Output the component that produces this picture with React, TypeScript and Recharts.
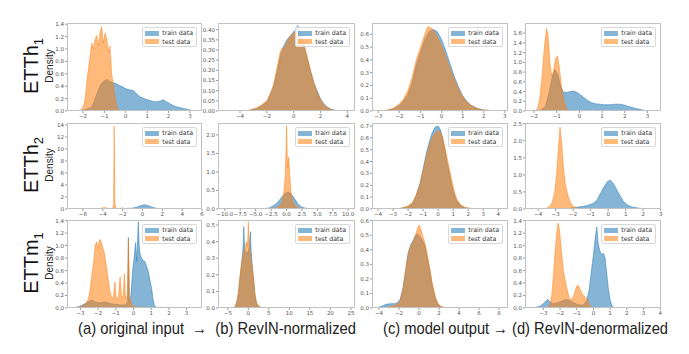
import { AreaChart, Area, XAxis, YAxis } from 'recharts';

type Pt = [number, number];

// ETTh1
const h1InputTrain: Pt[] = [[-2.5,0],[-2.2,0.01],[-1.9,0.02],[-1.6,0.06],[-1.45,0.18],[-1.3,0.33],[-1.15,0.44],[-1.0,0.49],[-0.88,0.51],[-0.75,0.47],[-0.6,0.46],[-0.45,0.44],[-0.3,0.41],[-0.15,0.39],[0,0.36],[0.2,0.34],[0.35,0.33],[0.5,0.28],[0.66,0.23],[0.85,0.2],[1.0,0.18],[1.15,0.17],[1.3,0.15],[1.45,0.15],[1.6,0.16],[1.75,0.18],[1.9,0.15],[2.05,0.12],[2.2,0.09],[2.45,0.06],[2.7,0.04],[2.95,0.02],[3.2,0]];
const h1InputTest: Pt[] = [[-2.1,0],[-1.98,0.08],[-1.9,0.2],[-1.8,0.55],[-1.72,0.75],[-1.65,0.95],[-1.59,1.1],[-1.52,1.0],[-1.44,1.15],[-1.36,1.22],[-1.28,1.05],[-1.21,1.26],[-1.13,1.36],[-1.05,1.1],[-0.97,1.26],[-0.89,1.16],[-0.82,0.95],[-0.74,1.05],[-0.66,0.6],[-0.58,0.4],[-0.5,0.2],[-0.4,0.05],[-0.3,0]];
const h1NormTrain: Pt[] = [[-3.6,0],[-3.2,0.005],[-2.8,0.012],[-2.4,0.025],[-2.0,0.045],[-1.75,0.08],[-1.5,0.12],[-1.25,0.19],[-1.0,0.27],[-0.75,0.32],[-0.5,0.35],[-0.25,0.37],[0,0.39],[0.15,0.4],[0.3,0.42],[0.45,0.4],[0.6,0.37],[0.75,0.33],[1.0,0.26],[1.25,0.2],[1.5,0.14],[1.75,0.1],[2.0,0.06],[2.25,0.035],[2.5,0.02],[2.75,0.01],[3.0,0.005],[3.4,0]];
const h1NormTest: Pt[] = [[-3.6,0],[-3.2,0.006],[-2.8,0.014],[-2.4,0.03],[-2.0,0.05],[-1.75,0.085],[-1.5,0.13],[-1.25,0.21],[-1.0,0.29],[-0.85,0.31],[-0.7,0.31],[-0.5,0.34],[-0.25,0.37],[0,0.385],[0.2,0.39],[0.4,0.38],[0.6,0.36],[0.75,0.33],[1.0,0.27],[1.25,0.2],[1.5,0.14],[1.75,0.09],[2.0,0.055],[2.25,0.03],[2.5,0.017],[2.75,0.008],[3.0,0.003],[3.4,0]];
const h1OutTrain: Pt[] = [[-3,0],[-2.6,0.005],[-2.3,0.015],[-2.0,0.045],[-1.8,0.08],[-1.6,0.13],[-1.4,0.22],[-1.2,0.36],[-1.0,0.46],[-0.8,0.56],[-0.6,0.62],[-0.4,0.64],[-0.2,0.62],[0,0.56],[0.2,0.47],[0.4,0.37],[0.6,0.27],[0.8,0.19],[1.0,0.12],[1.2,0.075],[1.4,0.045],[1.7,0.02],[2.0,0.008],[2.5,0.002],[3,0]];
const h1OutTest: Pt[] = [[-3,0],[-2.6,0.006],[-2.3,0.02],[-2.0,0.055],[-1.8,0.095],[-1.6,0.16],[-1.4,0.26],[-1.2,0.4],[-1.0,0.5],[-0.8,0.6],[-0.65,0.66],[-0.5,0.65],[-0.3,0.61],[-0.1,0.55],[0.1,0.47],[0.3,0.38],[0.5,0.29],[0.7,0.21],[0.9,0.14],[1.1,0.09],[1.3,0.055],[1.6,0.025],[1.9,0.01],[2.4,0.003],[3,0]];
const h1DenormTrain: Pt[] = [[-2.0,0],[-1.7,0.02],[-1.5,0.1],[-1.35,0.35],[-1.2,0.7],[-1.08,0.85],[-0.95,0.75],[-0.85,0.55],[-0.72,0.39],[-0.55,0.38],[-0.4,0.4],[-0.25,0.41],[-0.1,0.38],[0.05,0.33],[0.2,0.28],[0.35,0.22],[0.5,0.18],[0.7,0.15],[0.9,0.14],[1.1,0.13],[1.35,0.13],[1.6,0.14],[1.8,0.14],[2.0,0.12],[2.25,0.08],[2.5,0.05],[2.7,0.03],[2.9,0.01],[3.1,0]];
const h1DenormTest: Pt[] = [[-1.95,0],[-1.85,0.05],[-1.75,0.25],[-1.65,0.7],[-1.55,1.3],[-1.45,1.7],[-1.38,1.55],[-1.3,1.0],[-1.22,0.72],[-1.15,0.8],[-1.05,1.08],[-0.97,1.13],[-0.9,0.95],[-0.8,0.55],[-0.7,0.25],[-0.6,0.08],[-0.5,0.01],[-0.4,0]];

// ETTh2
const h2InputTrain: Pt[] = [[-6.5,0],[-4,0.02],[-3,0.05],[-2,0.08],[-1.5,0.1],[-1.0,0.15],[-0.6,0.3],[-0.2,0.55],[0.2,0.7],[0.6,0.55],[1.0,0.3],[1.4,0.12],[1.8,0.05],[2.5,0.02],[4,0.01],[5.5,0]];
const h2InputTest: Pt[] = [[-5,0],[-4.2,0.05],[-3.9,0.25],[-3.7,0.2],[-3.3,0.05],[-3.0,0.1],[-2.9,0.6],[-2.85,13.8],[-2.78,0.8],[-2.65,0.1],[-2.3,0.05],[-2.0,0.2],[-1.8,0.1],[-1.4,0.02],[-1,0]];
const h2NormTrain: Pt[] = [[-4.5,0],[-3.5,0.01],[-2.8,0.03],[-2.2,0.08],[-1.6,0.15],[-1.1,0.25],[-0.6,0.36],[-0.2,0.42],[0.3,0.46],[0.8,0.4],[1.3,0.28],[1.8,0.15],[2.3,0.07],[2.9,0.03],[3.6,0.01],[4.5,0]];
const h2NormTest: Pt[] = [[-3,0],[-2,0.02],[-1.2,0.06],[-0.7,0.2],[-0.4,0.5],[-0.2,0.9],[-0.08,1.6],[0,2.25],[0.1,1.5],[0.2,1.1],[0.35,1.4],[0.5,1.0],[0.7,0.5],[1.0,0.2],[1.5,0.06],[2.5,0.01],[3.5,0]];
const h2OutTrain: Pt[] = [[-3,0],[-2.5,0.005],[-2.0,0.02],[-1.7,0.05],[-1.45,0.12],[-1.2,0.22],[-1.0,0.34],[-0.8,0.46],[-0.6,0.56],[-0.4,0.64],[-0.2,0.69],[0,0.7],[0.15,0.67],[0.3,0.6],[0.45,0.5],[0.6,0.39],[0.78,0.28],[0.95,0.18],[1.1,0.11],[1.25,0.07],[1.5,0.03],[1.8,0.01],[2.3,0.003],[3,0]];
const h2OutTest: Pt[] = [[-3,0],[-2.5,0.006],[-2.0,0.025],[-1.7,0.055],[-1.45,0.12],[-1.2,0.21],[-1.0,0.32],[-0.8,0.43],[-0.6,0.53],[-0.4,0.6],[-0.2,0.64],[0,0.66],[0.15,0.65],[0.3,0.6],[0.45,0.52],[0.6,0.43],[0.78,0.32],[0.95,0.22],[1.1,0.14],[1.25,0.08],[1.5,0.035],[1.8,0.012],[2.3,0.003],[3,0]];
const h2DenormTrain: Pt[] = [[-2.6,0],[-2.2,0.02],[-1.8,0.05],[-1.4,0.08],[-1.1,0.12],[-0.85,0.17],[-0.65,0.25],[-0.45,0.45],[-0.25,0.64],[-0.05,0.8],[0.12,0.85],[0.3,0.75],[0.5,0.56],[0.7,0.37],[0.88,0.22],[1.1,0.12],[1.36,0.06],[1.8,0.02],[2.3,0.005],[2.7,0]];
const h2DenormTest: Pt[] = [[-4,0],[-3.6,0.01],[-3.4,0.05],[-3.2,0.18],[-3.05,0.5],[-2.95,1.0],[-2.85,1.7],[-2.75,2.4],[-2.65,1.9],[-2.55,1.2],[-2.45,0.75],[-2.3,0.4],[-2.15,0.18],[-2.0,0.08],[-1.8,0.03],[-1.4,0.01],[-1,0]];

// ETTm1
const m1InputTrain: Pt[] = [[-3.5,0],[-3.1,0.02],[-2.8,0.06],[-2.55,0.1],[-2.35,0.13],[-2.1,0.09],[-1.9,0.08],[-1.6,0.1],[-1.3,0.07],[-1.0,0.06],[-0.7,0.05],[-0.45,0.05],[-0.33,0.1],[-0.29,1.13],[-0.25,0.1],[-0.15,0.2],[-0.05,0.6],[0.05,0.85],[0.12,1.05],[0.18,0.75],[0.23,1.1],[0.27,1.38],[0.32,1.0],[0.38,0.85],[0.46,0.8],[0.55,0.76],[0.65,0.74],[0.75,0.66],[0.84,0.58],[0.93,0.45],[1.03,0.3],[1.1,0.15],[1.18,0.04],[1.3,0.01],[2,0.01],[3,0]];
const m1InputTest: Pt[] = [[-3.4,0],[-3.0,0.02],[-2.7,0.06],[-2.55,0.15],[-2.45,0.3],[-2.35,0.55],[-2.25,0.75],[-2.17,1.0],[-2.08,1.06],[-2.0,0.95],[-1.92,1.1],[-1.85,1.08],[-1.75,0.98],[-1.65,0.88],[-1.55,0.7],[-1.45,0.5],[-1.35,0.3],[-1.25,0.18],[-1.15,0.15],[-1.05,0.42],[-0.98,0.15],[-0.85,0.18],[-0.76,0.5],[-0.68,0.18],[-0.58,0.2],[-0.52,0.55],[-0.45,0.15],[-0.35,0.2],[-0.29,1.1],[-0.22,0.2],[-0.1,0.05],[0.1,0.02],[0.5,0.01],[1.0,0]];
const m1NormTrain: Pt[] = [[-3.6,0],[-3.2,0.01],[-2.8,0.035],[-2.4,0.09],[-2.0,0.19],[-1.6,0.28],[-1.3,0.36],[-1.1,0.49],[-0.9,0.35],[-0.6,0.34],[-0.3,0.33],[0,0.34],[0.25,0.38],[0.5,0.46],[0.7,0.34],[1.0,0.24],[1.3,0.17],[1.6,0.08],[2.0,0.03],[2.5,0.01],[3.5,0]];
const m1NormTest: Pt[] = [[-3.6,0],[-3.2,0.01],[-2.8,0.04],[-2.4,0.1],[-2.0,0.2],[-1.6,0.28],[-1.2,0.33],[-0.8,0.36],[-0.45,0.4],[-0.2,0.37],[0,0.52],[0.2,0.38],[0.5,0.33],[0.8,0.27],[1.2,0.2],[1.6,0.09],[2.0,0.03],[2.5,0.01],[3.5,0]];
const m1OutTrain: Pt[] = [[-4.3,0],[-3.8,0.01],[-3.3,0.025],[-2.8,0.03],[-2.4,0.03],[-2.1,0.04],[-1.88,0.06],[-1.6,0.14],[-1.38,0.24],[-1.2,0.33],[-1.05,0.39],[-0.8,0.44],[-0.55,0.47],[-0.35,0.5],[-0.2,0.51],[0,0.5],[0.2,0.48],[0.4,0.46],[0.62,0.42],[0.85,0.34],[1.12,0.24],[1.35,0.15],[1.62,0.07],[1.9,0.025],[2.2,0.008],[2.8,0]];
const m1OutTest: Pt[] = [[-4.3,0],[-3.5,0.003],[-3.0,0.008],[-2.5,0.015],[-2.1,0.03],[-1.88,0.05],[-1.6,0.13],[-1.38,0.23],[-1.2,0.32],[-1.05,0.38],[-0.8,0.43],[-0.55,0.46],[-0.35,0.5],[-0.15,0.55],[0,0.57],[0.15,0.55],[0.35,0.5],[0.62,0.44],[0.85,0.36],[1.12,0.26],[1.35,0.16],[1.62,0.08],[1.9,0.03],[2.2,0.01],[2.8,0]];
const m1DenormTrain: Pt[] = [[-3.6,0],[-3.2,0.03],[-2.95,0.08],[-2.75,0.14],[-2.6,0.1],[-2.4,0.07],[-2.2,0.08],[-1.9,0.11],[-1.65,0.14],[-1.4,0.12],[-1.15,0.08],[-0.9,0.05],[-0.6,0.05],[-0.4,0.12],[-0.25,0.3],[-0.12,0.6],[0,0.85],[0.1,1.1],[0.2,1.3],[0.28,1.05],[0.38,0.92],[0.5,0.85],[0.6,0.88],[0.7,0.8],[0.8,0.55],[0.9,0.3],[1.0,0.13],[1.12,0.03],[1.3,0]];
const m1DenormTest: Pt[] = [[-2.8,0],[-2.6,0.05],[-2.5,0.2],[-2.4,0.5],[-2.3,0.9],[-2.2,1.2],[-2.12,1.36],[-2.03,1.25],[-1.93,0.95],[-1.8,0.6],[-1.6,0.32],[-1.45,0.17],[-1.3,0.13],[-1.15,0.22],[-1.02,0.34],[-0.92,0.37],[-0.8,0.3],[-0.65,0.22],[-0.5,0.18],[-0.38,0.14],[-0.25,0.06],[-0.1,0.01],[0.1,0]];

// tick values
const h1InputX = [-2, -1, 0, 1, 2, 3];
const h1InputY = [0, 0.2, 0.4, 0.6, 0.8, 1.0, 1.2, 1.4];
const h1NormX = [-4, -2, 0, 2, 4];
const h1NormY = [0, 0.05, 0.1, 0.15, 0.2, 0.25, 0.3, 0.35, 0.4];
const h1OutX = [-3, -2, -1, 0, 1, 2, 3];
const h1OutY = [0, 0.1, 0.2, 0.3, 0.4, 0.5, 0.6];
const h1DenormX = [-2, -1, 0, 1, 2, 3];
const h1DenormY = [0, 0.2, 0.4, 0.6, 0.8, 1.0, 1.2, 1.4, 1.6];
const h2InputX = [-6, -4, -2, 0, 2, 4, 6];
const h2InputY = [0, 2, 4, 6, 8, 10, 12, 14];
const h2NormX = [-10, -7.5, -5, -2.5, 0, 2.5, 5, 7.5, 10];
const h2NormY = [0, 0.5, 1.0, 1.5, 2.0];
const h2OutX = [-4, -3, -2, -1, 0, 1, 2, 3, 4];
const h2OutY = [0, 0.1, 0.2, 0.3, 0.4, 0.5, 0.6, 0.7];
const h2DenormX = [-4, -3, -2, -1, 0, 1, 2, 3];
const h2DenormY = [0, 0.5, 1.0, 1.5, 2.0, 2.5];
const m1InputX = [-3, -2, -1, 0, 1, 2, 3];
const m1InputY = [0, 0.2, 0.4, 0.6, 0.8, 1.0, 1.2, 1.4];
const m1NormX = [-5, 0, 5, 10, 15, 20, 25];
const m1NormY = [0, 0.1, 0.2, 0.3, 0.4, 0.5];
const m1OutX = [-4, -2, 0, 2, 4, 6, 8];
const m1OutY = [0, 0.1, 0.2, 0.3, 0.4, 0.5, 0.6];
const m1DenormX = [-3, -2, -1, 0, 1, 2, 3, 4];
const m1DenormY = [0, 0.2, 0.4, 0.6, 0.8, 1.0, 1.2, 1.4];

const rowNames = ['h', 'h', 'm'];
const rowSubs = ['1', '2', '1'];
const captionLeft = '(a) original input \u00a0→\u00a0 (b) RevIN-normalized';
const captionRight = '(c) model output → (d) RevIN-denormalized';

const COLORS = { train: '#1f77b4', test: '#ff7f0e' };
const COL_X = [67, 218, 372, 525];
const COL_W = [135, 137, 136, 136];
const ROW_Y = [23, 123, 220];
const ROW_H = [88, 86, 88];

const minus = (s: string) => s.replace('-', '\u2212');
const f0 = (v: number) => minus(String(v));
const f1 = (v: number) => minus(v.toFixed(1));
const f2 = (v: number) => minus(v.toFixed(2));

const toRows = (pts: Pt[]) => pts.map(([x, y]) => ({ x, y }));

const panels = [
  { train: h1InputTrain, test: h1InputTest, xd: [-2.75, 3.56], yd: [0, 1.42], xt: h1InputX, yt: h1InputY, xf: f0, yf: f1 },
  { train: h1NormTrain, test: h1NormTest, xd: [-5.64, 4.57], yd: [0, 0.433], xt: h1NormX, yt: h1NormY, xf: f0, yf: f2 },
  { train: h1OutTrain, test: h1OutTest, xd: [-3.3, 3.15], yd: [0, 0.689], xt: h1OutX, yt: h1OutY, xf: f0, yf: f1 },
  { train: h1DenormTrain, test: h1DenormTest, xd: [-2.4, 3.6], yd: [0, 1.81], xt: h1DenormX, yt: h1DenormY, xf: f0, yf: f1 },
  { train: h2InputTrain, test: h2InputTest, xd: [-7.6, 6.0], yd: [0, 14.33], xt: h2InputX, yt: h2InputY, xf: f0, yf: f0 },
  { train: h2NormTrain, test: h2NormTest, xd: [-11.1, 11.1], yd: [0, 2.32], xt: h2NormX, yt: h2NormY, xf: f1, yf: f1 },
  { train: h2OutTrain, test: h2OutTest, xd: [-4.4, 4.65], yd: [0, 0.725], xt: h2OutX, yt: h2OutY, xf: f0, yf: f1 },
  { train: h2DenormTrain, test: h2DenormTest, xd: [-4.75, 3.02], yd: [0, 2.52], xt: h2DenormX, yt: h2DenormY, xf: f0, yf: f1 },
  { train: m1InputTrain, test: m1InputTest, xd: [-3.76, 3.87], yd: [0, 1.41], xt: m1InputX, yt: m1InputY, xf: f0, yf: f1 },
  { train: m1NormTrain, test: m1NormTest, xd: [-7.4, 26.0], yd: [0, 0.53], xt: m1NormX, yt: m1NormY, xf: f0, yf: f1 },
  { train: m1OutTrain, test: m1OutTest, xd: [-4.7, 8.9], yd: [0, 0.605], xt: m1OutX, yt: m1OutY, xf: f0, yf: f1 },
  { train: m1DenormTrain, test: m1DenormTest, xd: [-4.1, 4.05], yd: [0, 1.41], xt: m1DenormX, yt: m1DenormY, xf: f0, yf: f1 },
];

const YW = 24;
const XH = 14;
const MT = 5;
const MR = 8;
const tickStyle = { fontSize: 5.5, fill: '#555', fontFamily: 'DejaVu Sans' };

function LegendBox() {
  const items: [string, string][] = [['train data', COLORS.train], ['test data', COLORS.test]];
  return (
    <div style={{
      position: 'absolute', right: MR + 5, top: MT + 4, border: '1px solid #d8d8d8', borderRadius: 2,
      background: 'rgba(255,255,255,0.85)', padding: '1px 3px 0px 2px',
      fontFamily: 'DejaVu Sans', fontSize: 6.3, color: '#333', lineHeight: '8.5px',
    }}>
      {items.map(([label, c]) => (
        <div key={label} style={{ display: 'flex', alignItems: 'center', whiteSpace: 'nowrap' }}>
          <span style={{ display: 'inline-block', width: 14, height: 5, background: c, opacity: 0.55, marginRight: 3 }} />
          {label}
        </div>
      ))}
    </div>
  );
}

function Panel({ p, left, top, w, h }: any) {
  const cw = w + YW + MR;
  const ch = h + XH + MT;
  return (
    <div style={{ position: 'absolute', left: left - YW, top: top - MT, width: cw, height: ch }}>
      <AreaChart width={cw} height={ch} margin={{ top: MT, right: MR, bottom: 0, left: 0 }}>
        <XAxis
          type="number" dataKey="x" domain={p.xd} ticks={p.xt} allowDataOverflow interval={0}
          height={XH} tick={tickStyle} tickSize={2} tickMargin={1} tickLine={{ stroke: '#999' }}
          axisLine={false} tickFormatter={p.xf}
        />
        <YAxis
          type="number" dataKey="y" domain={p.yd} ticks={p.yt} allowDataOverflow interval={0}
          width={YW} tick={tickStyle} tickSize={2} tickMargin={1} tickLine={{ stroke: '#999' }}
          axisLine={false} tickFormatter={p.yf}
        />
        <Area data={toRows(p.train)} dataKey="y" type="linear" stroke={COLORS.train} strokeWidth={0.6}
          strokeOpacity={0.8} fill={COLORS.train} fillOpacity={0.55} isAnimationActive={false} dot={false} activeDot={false} />
        <Area data={toRows(p.test)} dataKey="y" type="linear" stroke={COLORS.test} strokeWidth={0.6}
          strokeOpacity={0.8} fill={COLORS.test} fillOpacity={0.55} isAnimationActive={false} dot={false} activeDot={false} />
      </AreaChart>
      <div style={{
        position: 'absolute', left: YW, top: MT, width: w, height: h, boxSizing: 'border-box',
        border: '1px solid #c2c2c2', pointerEvents: 'none',
      }} />
      <LegendBox />
    </div>
  );
}

function RowLabel({ name, sub, y }: { name: string; sub: string; y: number }) {
  return (
    <>
      <div style={{
        position: 'absolute', left: 33, top: y, transform: 'translate(-50%, -50%) rotate(-90deg)',
        fontFamily: 'Liberation Sans', fontSize: 20, color: '#111', whiteSpace: 'nowrap',
      }}>
        ETT{name}<sub style={{ fontSize: 13 }}>{sub}</sub>
      </div>
      <div style={{
        position: 'absolute', left: 49, top: y, transform: 'translate(-50%, -50%) rotate(-90deg)',
        fontFamily: 'Liberation Sans', fontSize: 10, color: '#222', whiteSpace: 'nowrap',
      }}>
        Density
      </div>
    </>
  );
}

export default function App() {
  return (
    <div style={{ position: 'absolute', left: 0, top: 0, width: 689, height: 354, background: '#fff', overflow: 'hidden' }}>
      {panels.map((p, i) => {
        const r = Math.floor(i / 4);
        const c = i % 4;
        return <Panel key={i} p={p} left={COL_X[c]} top={ROW_Y[r]} w={COL_W[c]} h={ROW_H[r]} />;
      })}
      {ROW_Y.map((y, r) => (
        <RowLabel key={r} name={rowNames[r]} sub={rowSubs[r]} y={y + ROW_H[r] / 2 - 1} />
      ))}
      <svg width={689} height={354} style={{ position: 'absolute', left: 0, top: 0, pointerEvents: 'none' }}>
        <text x={78} y={334} textLength={278} lengthAdjust="spacingAndGlyphs"
          fontFamily="Liberation Sans" fontSize={17} fill="#222">{captionLeft}</text>
        <text x={383} y={334} textLength={285} lengthAdjust="spacingAndGlyphs"
          fontFamily="Liberation Sans" fontSize={17} fill="#222">{captionRight}</text>
      </svg>
    </div>
  );
}
